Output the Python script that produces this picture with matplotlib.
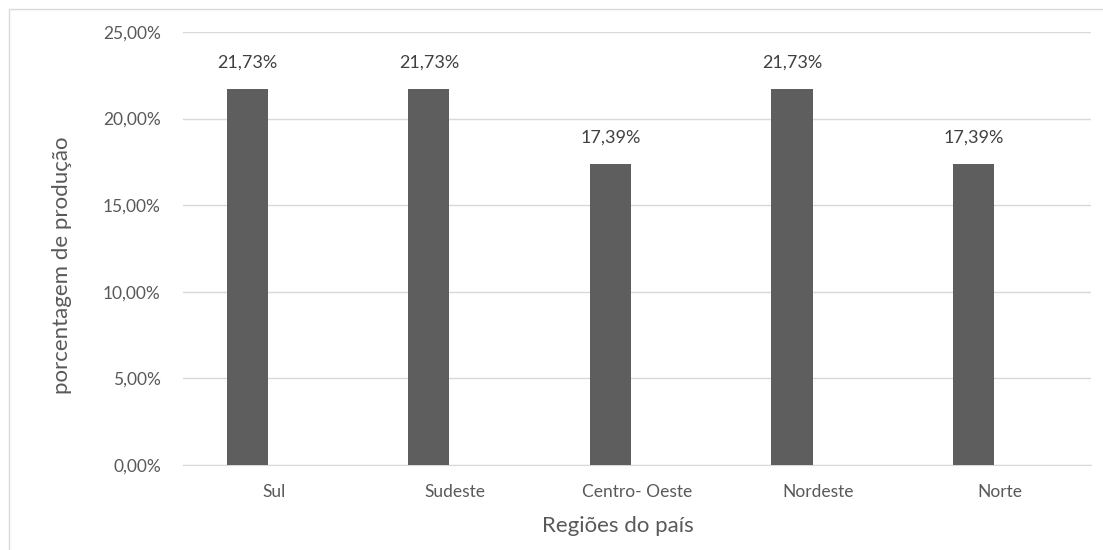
import numpy as np
import matplotlib.pyplot as plt
from matplotlib.patches import Rectangle

# data
regioes = ['Sul', 'Sudeste', 'Centro- Oeste', 'Nordeste', 'Norte']
porcentagem = [21.73, 21.73, 17.39, 21.73, 17.39]
yticks = [0, 5, 10, 15, 20, 25]

plt.rcParams['font.family'] = ['Lato', 'DejaVu Sans']
txt = '#595959'

fig = plt.figure(figsize=(11.03, 5.5), dpi=100)
W, H = 1103, 550
ax = fig.add_axes([183 / W, (H - 465) / H, 908 / W, 433 / H])

# light chart border like the excel chart area
fig.patches.append(Rectangle((9 / W, -0.1), 1.2, (H - 9) / H + 0.1,
                             transform=fig.transFigure, fill=False,
                             edgecolor='#d9d9d9', linewidth=1))

x = np.arange(len(regioes))
bars = ax.bar(x - 0.146, porcentagem, width=0.227, color='#5e5e5e', zorder=3)

for b, v in zip(bars, porcentagem):
    ax.annotate(f'{v:.2f}%'.replace('.', ','),
                (b.get_x() + b.get_width() / 2, v),
                xytext=(0, 13), textcoords='offset points',
                ha='center', va='bottom', fontsize=13, color='#404040')

ax.set_xlim(-0.5, len(regioes) - 0.5)
ax.set_ylim(0, 25)
ax.set_yticks(yticks)
ax.set_yticklabels([f'{t:.2f}%'.replace('.', ',') for t in yticks])
ax.set_xticks(x)
ax.set_xticklabels(regioes)
ax.tick_params(length=0, labelsize=12.5, colors=txt)
ax.tick_params(axis='y', pad=16)
ax.tick_params(axis='x', pad=14)

ax.grid(axis='y', color='#d9d9d9', linewidth=1, zorder=0)
for s in ['top', 'right', 'left']:
    ax.spines[s].set_visible(False)
ax.spines['bottom'].set_color('#d9d9d9')

fig.text(62 / W, 1 - 265 / H, 'porcentagem de produção', rotation=90,
         ha='center', va='center', fontsize=16, color=txt)
fig.text(618 / W, 1 - 526 / H, 'Regiões do país',
         ha='center', va='center', fontsize=16, color=txt)

fig.savefig('out.png', dpi=100)
